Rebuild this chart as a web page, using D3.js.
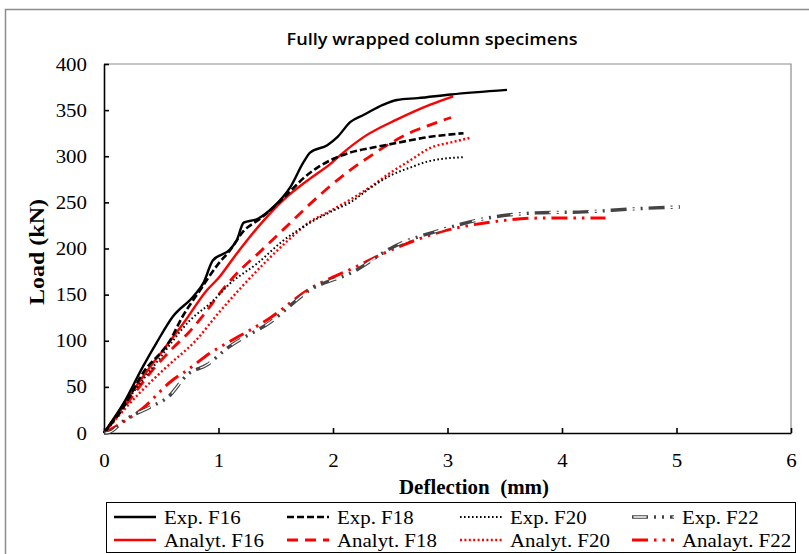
<!DOCTYPE html>
<html>
<head>
<meta charset="utf-8">
<script src="https://cdn.jsdelivr.net/npm/d3@7"></script>
<style>
  body { margin: 0; background: #fff; }
  svg text { fill: #000; }
</style>
</head>
<body>
<div id="chart"></div>
<script>
// deflection (mm), load (kN) pairs
let expF16 = [[0,0],[0.17,32],[0.34,72],[0.46,98],[0.6,126],[0.78,148],[0.87,163],[0.95,187],[1.1,199],[1.16,209],[1.22,228],[1.34,232],[1.48,245],[1.63,267],[1.74,293],[1.8,304],[1.95,312],[2.04,321],[2.15,337],[2.27,345],[2.44,356],[2.56,361],[2.74,363],[3.03,367],[3.52,372]];
let expF18 = [[0,0],[0.17,28],[0.34,65],[0.58,101],[0.68,125],[0.84,155],[0.99,182],[1.1,198],[1.22,219],[1.36,232],[1.51,248],[1.65,265],[1.74,276],[1.88,289],[2.0,297],[2.15,304],[2.33,309],[2.56,314.5],[2.79,320],[3.14,325]];
let expF20 = [[0,0],[0.2,35],[0.45,75],[0.75,122],[0.95,143],[1.1,162],[1.34,184],[1.57,209],[1.8,228],[2.0,241],[2.15,250],[2.33,266],[2.5,279],[2.68,288],[2.85,295],[3.14,299]];
let expF22 = [[0,0],[0.05,1],[0.18,14],[0.4,28],[0.56,39],[0.735,64],[0.9,74],[1.076,92],[1.45,120],[1.8,155],[2.18,175],[2.53,202],[2.94,220],[3.35,233],[3.77,238.6],[4.19,239.7],[4.63,243],[5.03,245]];
let anF16 = [[0,0],[0.34,61],[0.7,120],[0.9,155],[1.0,168],[1.15,193],[1.35,224],[1.57,253],[1.78,274],[1.98,292],[2.09,304],[2.27,321],[2.56,340],[2.85,356],[3.05,365]];
let anF18 = [[0,0],[0.14,22],[0.45,72],[0.6,92],[0.74,109],[0.87,128],[1.02,153],[1.2,178],[1.35,195],[1.57,221],[1.78,246],[1.95,265],[2.15,285],[2.3,298],[2.5,314],[2.7,327],[2.85,334],[3.03,342]];
let anF20 = [[0,0],[0.3,42],[0.55,72],[0.8,100],[1.0,130],[1.2,158],[1.4,184],[1.6,208],[1.8,229],[1.98,241],[2.15,253],[2.33,267],[2.5,282],[2.68,296],[2.85,309],[3.03,315],[3.2,320]];
let anF22 = [[0,0],[0.34,27],[0.6,57.5],[0.726,68],[0.93,87],[1.076,97.6],[1.45,124.7],[1.78,155],[2.18,179],[2.55,200.6],[2.94,218],[3.4,229],[3.81,233],[4.38,233]];

let seriesNames = ["Exp. F16", "Exp. F18", "Exp. F20", "Exp. F22",
                   "Analyt. F16", "Analyt. F18", "Analyt. F20", "Analayt. F22"];
let xTicks = [0, 1, 2, 3, 4, 5, 6];
let yTicks = [0, 50, 100, 150, 200, 250, 300, 350, 400];

let width = 809, height = 554;

// the source figure's text is a little wider than the installed fonts
function widen(sel, k) {
    sel.each(function() {
        let len = this.getComputedTextLength();
        d3.select(this)
            .attr("textLength", len * k)
            .attr("lengthAdjust", "spacingAndGlyphs");
    });
}

let svg = d3.select("#chart").append("svg")
    .attr("width", width)
    .attr("height", height);

// outer chart frame
svg.append("rect")
    .attr("x", 5.5).attr("y", 9.5)
    .attr("width", 820).attr("height", 560)
    .style("fill", "none")
    .style("stroke", "#8c8c8c")
    .style("stroke-width", 1.5);

let x = d3.scaleLinear().domain([0, 6]).range([104, 791]);
let y = d3.scaleLinear().domain([0, 400]).range([433, 64]);

// plot area top / right border
svg.append("path")
    .attr("d", "M" + x(0) + "," + y(400) + "H" + x(6) + "V" + y(0))
    .style("fill", "none")
    .style("stroke", "#8c8c8c")
    .style("stroke-width", 1.2);

svg.append("text")
    .attr("x", 432).attr("y", 45)
    .attr("text-anchor", "middle")
    .style("font-family", "'Open Sans', sans-serif")
    .style("font-weight", 600)
    .style("font-size", "16.5px")
    .text("Fully wrapped column specimens")
    .call(widen, 1.1);

let xAxis = svg.append("g")
    .attr("transform", "translate(0," + y(0) + ")")
    .call(d3.axisBottom(x).tickValues(xTicks).tickFormat(d3.format("d"))
        .tickSize(-5).tickSizeOuter(0).tickPadding(21));

let yAxis = svg.append("g")
    .attr("transform", "translate(" + x(0) + ",0)")
    .call(d3.axisLeft(y).tickValues(yTicks).tickFormat(d3.format("d"))
        .tickSize(-5).tickSizeOuter(0).tickPadding(17));

[xAxis, yAxis].forEach(function(g) {
    g.select(".domain").style("stroke", "#000").style("stroke-width", 1.6);
    g.selectAll(".tick line").style("stroke", "#000").style("stroke-width", 1.6);
    g.selectAll(".tick text")
        .style("font-family", "'Liberation Serif', serif")
        .style("font-size", "19px")
        .style("fill", "#000")
        .call(widen, 1.1);
});

svg.append("text")
    .attr("transform", "translate(44,252) rotate(-90)")
    .attr("text-anchor", "middle")
    .attr("textLength", 106)
    .attr("lengthAdjust", "spacingAndGlyphs")
    .style("font-family", "'Liberation Serif', serif")
    .style("font-weight", "bold")
    .style("font-size", "20px")
    .text("Load (kN)");

svg.append("text")
    .attr("x", 474).attr("y", 494)
    .attr("text-anchor", "middle")
    .attr("textLength", 150)
    .attr("lengthAdjust", "spacingAndGlyphs")
    .style("font-family", "'Liberation Serif', serif")
    .style("font-weight", "bold")
    .style("font-size", "20px")
    .style("white-space", "pre")
    .text("Deflection  (mm)");

// series styles
let styles = [
    { data: expF16, color: "#000", w: 2.4, dash: null },
    { data: expF18, color: "#000", w: 2.6, dash: "7,3" },
    { data: expF20, color: "#000", w: 2, dash: "1.6,2.4" },
    { data: expF22, color: "#444", w: 3.4, dash: "16,6,2,6,2,6", hollow: true },
    { data: anF16, color: "#ff0000", w: 2.4, dash: null },
    { data: anF18, color: "#ff0000", w: 2.8, dash: "11,7" },
    { data: anF20, color: "#ff0000", w: 2.4, dash: "2,2.4" },
    { data: anF22, color: "#ff0000", w: 3, dash: "16,6,2.5,6,2.5,6" }
];

let line = d3.line()
    .x(function(d) { return x(d[0]); })
    .y(function(d) { return y(d[1]); })
    .curve(d3.curveMonotoneX);

function drawStroke(sel, s) {
    sel.style("fill", "none")
        .style("stroke", s.color)
        .style("stroke-width", s.w)
        .style("stroke-dasharray", s.dash);
    if (s.hollow) {
        // white core inside the long dash only
        d3.select(sel.node().parentNode).append("path")
            .attr("d", sel.attr("d"))
            .style("fill", "none")
            .style("stroke", "#fff")
            .style("stroke-width", 1.3)
            .style("stroke-dasharray", "0,1.5,13,24.5");
    }
}

let lines = svg.append("g");
// red ones first so black sits on top where they overlap
[4, 5, 6, 7, 0, 1, 2, 3].forEach(function(i) {
    let s = styles[i];
    let p = lines.append("path").attr("d", line(s.data));
    drawStroke(p, s);
});

// legend
let legend = svg.append("g");
legend.append("rect")
    .attr("x", 106.5).attr("y", 502.5)
    .attr("width", 689).attr("height", 50)
    .style("fill", "#fff")
    .style("stroke", "#000")
    .style("stroke-width", 1);

let colX = [114, 287, 460, 632];
let rowY = [517, 540];

seriesNames.forEach(function(name, i) {
    let s = styles[i];
    let cx = colX[i % 4], cy = rowY[Math.floor(i / 4)];
    let p = legend.append("path")
        .attr("d", "M" + cx + "," + cy + "H" + (cx + 42));
    drawStroke(p, s);
    legend.append("text")
        .attr("x", cx + 50).attr("y", cy)
        .attr("dy", "0.35em")
        .style("font-family", "'Liberation Serif', serif")
        .style("font-size", "19px")
        .text(name)
        .call(widen, 1.1);
});
</script>
</body>
</html>
